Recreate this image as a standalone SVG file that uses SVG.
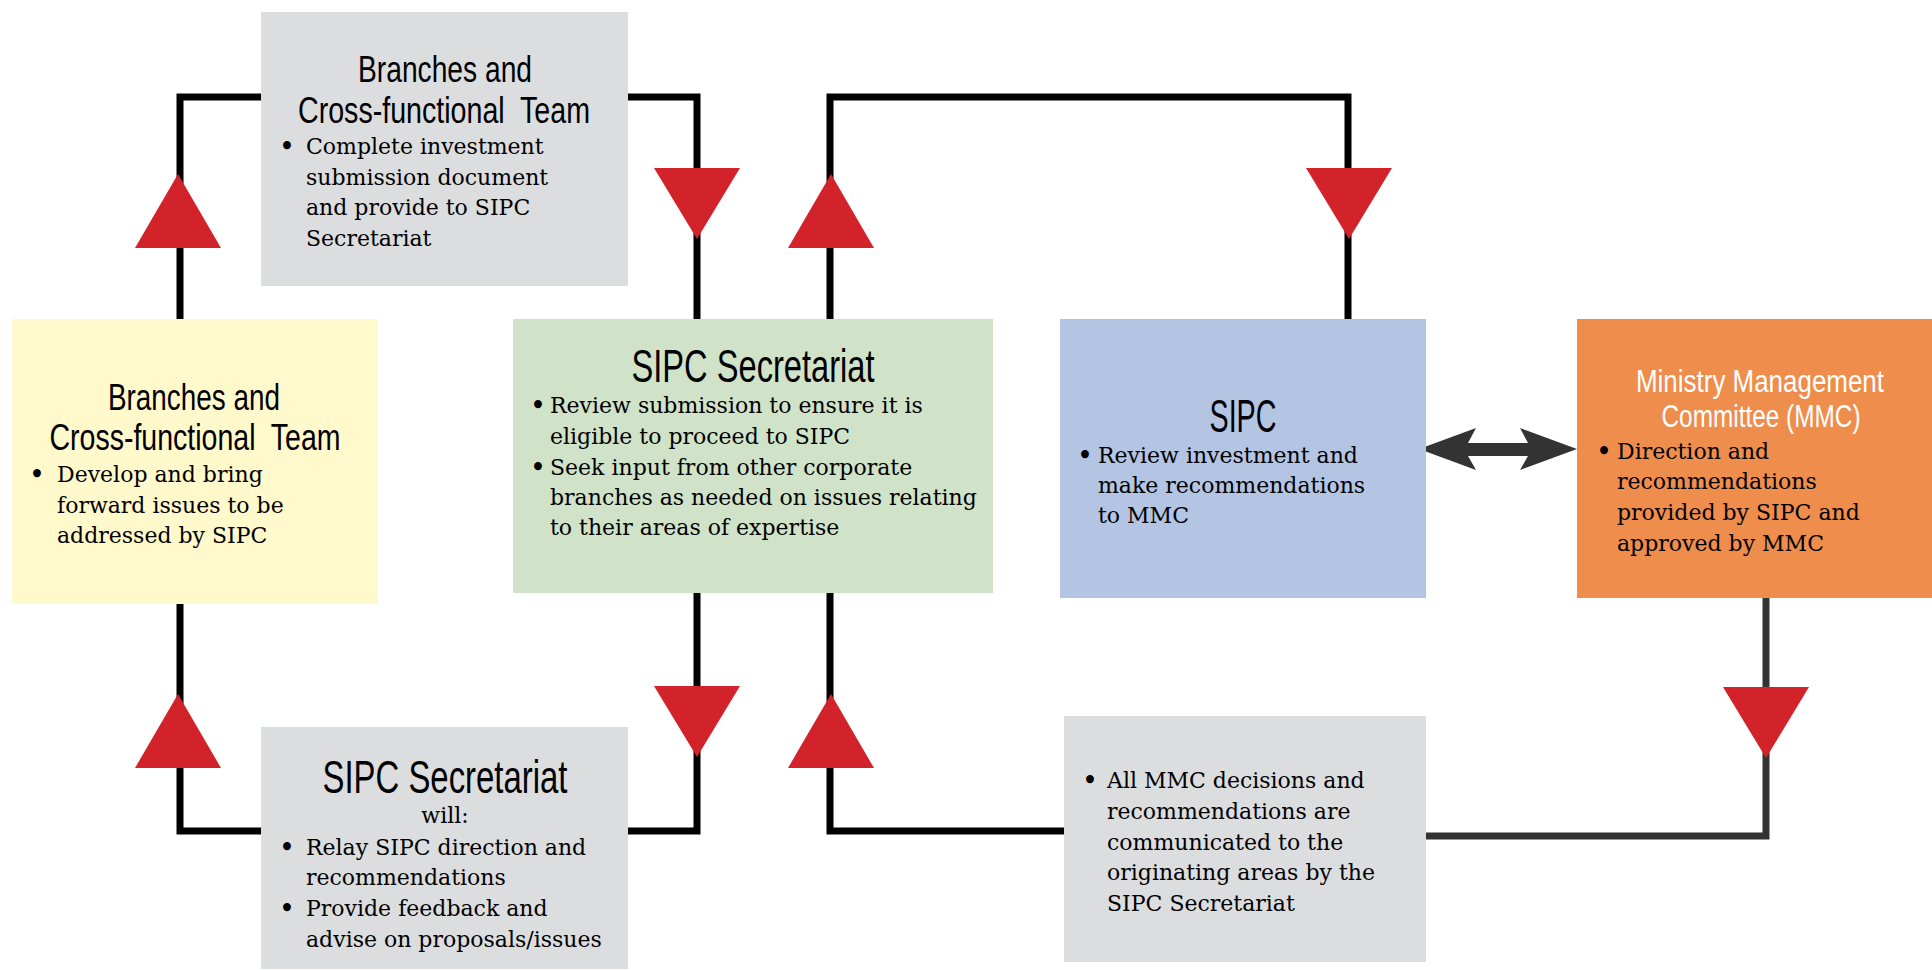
<svg xmlns="http://www.w3.org/2000/svg" xmlns:xlink="http://www.w3.org/1999/xlink" width="1932" height="970" viewBox="0 0 1932 970">
<style>
.box-gray{fill:#dcdddf}
.box-yellow{fill:#fff9cc}
.box-green{fill:#d0e3c8}
.box-blue{fill:#b4c5e4}
.box-orange{fill:#ef8d4d}
.title{font-family:"Liberation Sans",Arial,sans-serif;fill:#000;text-anchor:middle}
.t37{font-size:37px}
.t46{font-size:46px}
.t31{font-size:31px;fill:#fff}
.body{font-family:"DejaVu Serif","Liberation Serif",serif;font-size:22px;fill:#000}
.mid{text-anchor:middle}
.blt{font-family:"DejaVu Serif","Liberation Serif",serif;font-size:27px;fill:#000;text-anchor:middle}
.line{fill:none;stroke:#000;stroke-width:7;stroke-linejoin:miter;stroke-linecap:butt}
.line2{fill:none;stroke:#333;stroke-width:7;stroke-linejoin:miter}
.tri{fill:#d2232b}
</style>
<defs>
<path id="tri-up" d="M0,0 L43,74 L-43,74 Z"/>
<path id="tri-down" d="M-43,0 L43,0 L0,71 Z"/>
</defs>

<g id="connectors">
<polyline class="line" points="180,319 180,97 697,97 697,319"/>
<polyline class="line" points="830,319 830,97 1348,97 1348,319"/>
<polyline class="line" points="180,604 180,831 697,831 697,593"/>
<polyline class="line" points="830,593 830,831 1064,831"/>
<polyline class="line2" points="1426,836 1766,836 1766,598"/>
<use href="#tri-up" class="tri" x="178" y="174"/>
<use href="#tri-down" class="tri" x="697" y="168"/>
<use href="#tri-up" class="tri" x="831" y="174"/>
<use href="#tri-down" class="tri" x="1349" y="168"/>
<use href="#tri-up" class="tri" x="178" y="694"/>
<use href="#tri-down" class="tri" x="697" y="686"/>
<use href="#tri-up" class="tri" x="831" y="694"/>
<use href="#tri-down" class="tri" x="1766" y="687"/>
<polygon fill="#333" points="1419,449 1476,428 1468,443 1528,443 1520,428 1577,449 1520,470 1528,456 1468,456 1476,470"/>
</g>

<g id="node-branches-top">
<rect class="box-gray" x="261" y="12" width="367" height="274"/>
<text class="title t37" x="445" y="82" textLength="174" lengthAdjust="spacingAndGlyphs">Branches and</text>
<text class="title t37" x="444" y="123" textLength="292" lengthAdjust="spacingAndGlyphs" xml:space="preserve">Cross-functional  Team</text>
<text class="blt" x="287" y="156">•</text>
<text class="body" x="306" y="154">Complete investment</text>
<text class="body" x="306" y="185">submission document</text>
<text class="body" x="306" y="215">and provide to SIPC</text>
<text class="body" x="306" y="246">Secretariat</text>
</g>

<g id="node-branches-left">
<rect class="box-yellow" x="12" y="319" width="366" height="285"/>
<text class="title t37" x="194" y="410" textLength="172" lengthAdjust="spacingAndGlyphs">Branches and</text>
<text class="title t37" x="195" y="450" textLength="291" lengthAdjust="spacingAndGlyphs" xml:space="preserve">Cross-functional  Team</text>
<text class="blt" x="37" y="484">•</text>
<text class="body" x="57" y="482">Develop and bring</text>
<text class="body" x="57" y="513">forward issues to be</text>
<text class="body" x="57" y="543">addressed by SIPC</text>
</g>

<g id="node-secretariat-review">
<rect class="box-green" x="513" y="319" width="480" height="274"/>
<text class="title t46" x="753" y="382" textLength="243" lengthAdjust="spacingAndGlyphs">SIPC Secretariat</text>
<text class="blt" x="538" y="415">•</text>
<text class="body" x="550" y="413">Review submission to ensure it is</text>
<text class="body" x="550" y="444">eligible to proceed to SIPC</text>
<text class="blt" x="538" y="477">•</text>
<text class="body" x="550" y="475">Seek input from other corporate</text>
<text class="body" x="550" y="505">branches as needed on issues relating</text>
<text class="body" x="550" y="535">to their areas of expertise</text>
</g>

<g id="node-sipc">
<rect class="box-blue" x="1060" y="319" width="366" height="279"/>
<text class="title t46" x="1243" y="432" textLength="67" lengthAdjust="spacingAndGlyphs">SIPC</text>
<text class="blt" x="1085" y="465">•</text>
<text class="body" x="1098" y="463">Review investment and</text>
<text class="body" x="1098" y="493">make recommendations</text>
<text class="body" x="1098" y="523">to MMC</text>
</g>

<g id="node-mmc">
<rect class="box-orange" x="1577" y="319" width="355" height="279"/>
<text class="title t31" x="1760" y="392" textLength="248" lengthAdjust="spacingAndGlyphs">Ministry Management</text>
<text class="title t31" x="1761" y="427" textLength="199" lengthAdjust="spacingAndGlyphs">Committee (MMC)</text>
<text class="blt" x="1604" y="461">•</text>
<text class="body" x="1617" y="459">Direction and</text>
<text class="body" x="1617" y="489">recommendations</text>
<text class="body" x="1617" y="520">provided by SIPC and</text>
<text class="body" x="1617" y="551">approved by MMC</text>
</g>

<g id="node-secretariat-relay">
<rect class="box-gray" x="261" y="727" width="367" height="242"/>
<text class="title t46" x="445" y="793" textLength="245" lengthAdjust="spacingAndGlyphs">SIPC Secretariat</text>
<text class="body mid" x="445" y="823">will:</text>
<text class="blt" x="287" y="857">•</text>
<text class="body" x="306" y="855">Relay SIPC direction and</text>
<text class="body" x="306" y="885">recommendations</text>
<text class="blt" x="287" y="918">•</text>
<text class="body" x="306" y="916">Provide feedback and</text>
<text class="body" x="306" y="947">advise on proposals/issues</text>
</g>

<g id="node-communicate">
<rect class="box-gray" x="1064" y="716" width="362" height="246"/>
<text class="blt" x="1090" y="790">•</text>
<text class="body" x="1107" y="788">All MMC decisions and</text>
<text class="body" x="1107" y="819">recommendations are</text>
<text class="body" x="1107" y="850">communicated to the</text>
<text class="body" x="1107" y="880">originating areas by the</text>
<text class="body" x="1107" y="911">SIPC Secretariat</text>
</g>
</svg>
